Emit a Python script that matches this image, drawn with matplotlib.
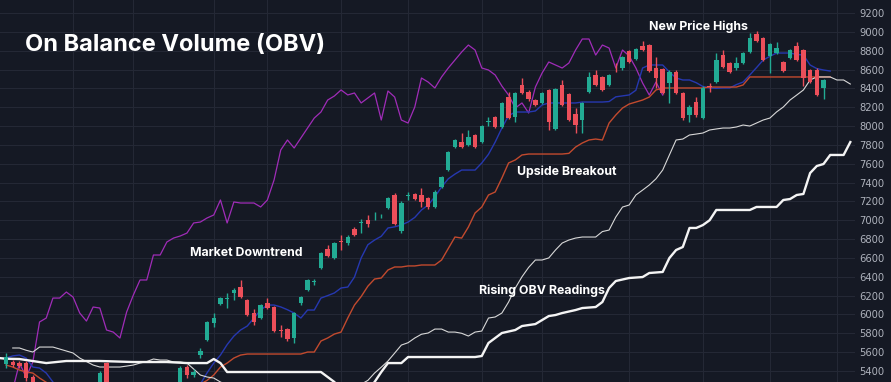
import numpy as np
import matplotlib
matplotlib.use("Agg")
import matplotlib.pyplot as plt

# ---- price candles (one per session) ----
opens = [5474, 5495, 5484, 5484, 5336, 5150, 5050, 5120, 5000, 4930,
         5010, 5090, 5040, 5130, 5210, 5484, 5200, 5100, 5020, 5080,
         4980, 4900, 4960, 5050, 5000, 5120, 5200, 5442, 5357, 5569,
         5729, 5909, 6111, 6164, 6228, 6291, 6153, 6015, 5962, 6121,
         6079, 5830, 5845, 5750, 6121, 6259, 6340, 6493, 6695, 6600,
         6780, 6758, 6907, 6970, 7002, 7040, 7040, 7130, 7268, 6890,
         7258, 7278, 7268, 7236, 7140, 7353, 7533, 7778, 7831, 7799,
         7905, 7831, 8045, 8096, 7990, 8308, 8096, 8436, 8361, 8276,
         8245, 8383, 7969, 8436, 8340, 8128, 8064, 8361, 8542, 8521,
         8436, 8600, 8616, 8797, 8712, 8850, 8860, 8616, 8605, 8457,
         8574, 8351, 8117, 8255, 8085, 8420, 8468, 8754, 8669, 8616,
         8669, 8786, 8977, 8935, 8744, 8775, 8680, 8722, 8850, 8807,
         8595, 8595, 8404]
highs = [5591, 5516, 5506, 5506, 5360, 5180, 5150, 5140, 5030, 5040,
         5110, 5120, 5160, 5230, 5400, 5495, 5220, 5130, 5110, 5100,
         5000, 4990, 5070, 5080, 5150, 5230, 5450, 5460, 5420, 5644,
         5935, 6015, 6185, 6228, 6281, 6366, 6164, 6058, 6111, 6174,
         6090, 5888, 5860, 6030, 6200, 6380, 6376, 6665, 6737, 6770,
         6843, 6840, 6930, 7013, 7055, 7087, 7070, 7250, 7289, 7200,
         7300, 7290, 7342, 7250, 7320, 7475, 7740, 7865, 7926, 7958,
         7915, 8015, 8096, 8110, 8260, 8361, 8365, 8510, 8380, 8290,
         8365, 8395, 8405, 8489, 8355, 8192, 8260, 8574, 8595, 8535,
         8555, 8669, 8745, 8810, 8830, 8903, 8870, 8733, 8620, 8590,
         8590, 8365, 8223, 8308, 8420, 8457, 8775, 8807, 8680, 8733,
         8790, 8988, 9009, 8950, 8885, 8892, 8695, 8820, 8892, 8820,
         8610, 8616, 8500]
lows = [5431, 5442, 5431, 5290, 5100, 5020, 5000, 4970, 4900, 4910,
        4990, 5010, 5020, 5100, 5180, 5150, 5060, 4990, 5000, 4950,
        4870, 4880, 4940, 4980, 4990, 5100, 5180, 5330, 5340, 5538,
        5715, 5867, 6100, 6068, 6153, 6175, 5980, 5888, 5950, 6058,
        5815, 5760, 5720, 5697, 6100, 6245, 6313, 6480, 6610, 6590,
        6684, 6740, 6830, 6864, 6928, 7002, 7020, 7120, 6950, 6865,
        7215, 7215, 7140, 7120, 7130, 7340, 7520, 7765, 7765, 7790,
        7765, 7820, 8000, 7980, 7980, 8070, 8043, 8340, 8270, 8210,
        8230, 7958, 7958, 8210, 8050, 7926, 7926, 8350, 8425, 8370,
        8425, 8570, 8600, 8670, 8700, 8795, 8570, 8404, 8340, 8245,
        8340, 8064, 8043, 8100, 8070, 8361, 8455, 8615, 8560, 8600,
        8655, 8775, 8890, 8690, 8563, 8765, 8570, 8710, 8690, 8425,
        8455, 8320, 8287]
closes = [5548, 5463, 5453, 5325, 5150, 5050, 5120, 5000, 4930, 5010,
          5090, 5040, 5130, 5200, 5378, 5200, 5100, 5020, 5080, 4980,
          4900, 4960, 5050, 5000, 5120, 5200, 5431, 5357, 5389, 5612,
          5920, 5962, 6174, 6170, 6259, 6185, 5994, 5920, 6100, 6068,
          5824, 5820, 5739, 6015, 6185, 6366, 6350, 6652, 6620, 6758,
          6770, 6822, 6843, 6980, 6960, 7050, 7050, 7236, 6960, 7183,
          7268, 7225, 7194, 7140, 7300, 7459, 7725, 7852, 7778, 7884,
          7778, 8000, 8058, 7990, 8245, 8085, 8351, 8351, 8287, 8223,
          8351, 8043, 8393, 8223, 8064, 8011, 8245, 8521, 8436, 8383,
          8542, 8590, 8733, 8680, 8818, 8807, 8584, 8510, 8351, 8574,
          8351, 8085, 8202, 8117, 8404, 8410, 8701, 8627, 8574, 8669,
          8775, 8935, 8903, 8701, 8871, 8828, 8584, 8807, 8701, 8510,
          8468, 8330, 8489]

# ---- overlay lines (session index, value) ----
magenta_x = list(range(1, 99))
magenta_y = [5200, 5484, 5336, 5495, 5920, 5962, 6174, 6174, 6238, 6185,
             6015, 5930, 6079, 6068, 5835, 5813, 5750, 6026, 6206, 6366,
             6366, 6631, 6631, 6769, 6811, 6833, 6864, 6971, 6981, 7024,
             7056, 7215, 6971, 7194, 7183, 7183, 7183, 7141, 7215, 7427,
             7746, 7852, 7767, 7873, 7979, 8085, 8149, 8276, 8319, 8383,
             8330, 8351, 8245, 8298, 8351, 8064, 8372, 8308, 8064, 8032,
             8202, 8510, 8467, 8404, 8521, 8616, 8701, 8786, 8860, 8807,
             8616, 8595, 8542, 8425, 8329, 8191, 8245, 8138, 8414, 8563,
             8680, 8648, 8616, 8669, 8807, 8924, 8924, 8754, 8860, 8828,
             8616, 8807, 8744, 8616, 8457, 8329, 8467, 8329]

blue_x = list(range(0, 124))
blue_y = [5537, 5560, 5569, 5537, 5442, 5431, 5378, 5283, 5200, 5150,
          5120, 5100, 5080, 5080, 5100, 5120, 5100, 5080, 5060, 5040,
          5020, 5000, 5000, 5020, 5040, 5080, 5120, 5160, 5200, 5260,
          5380, 5484, 5569, 5680, 5770, 5835, 5877, 5962, 6047, 6100,
          6100, 6080, 6050, 6015, 5962, 6047, 6047, 6174, 6200, 6228,
          6281, 6291, 6397, 6600, 6740, 6790, 6830, 6918, 6930, 6950,
          6981, 7030, 7109, 7162, 7250, 7353, 7440, 7490, 7533, 7533,
          7533, 7608, 7700, 7830, 7979, 8110, 8149, 8149, 8149, 8160,
          8223, 8245, 8245, 8245, 8245, 8245, 8255, 8255, 8255, 8255,
          8260, 8310, 8320, 8330, 8380, 8616, 8648, 8648, 8648, 8574,
          8510, 8489, 8489, 8460, 8420, 8404, 8400, 8404, 8404, 8440,
          8467, 8542, 8620, 8701, 8740, 8775, 8775, 8775, 8760, 8754,
          8648, 8610, 8595, 8584]

orange_x = list(range(0, 124))
orange_y = [5463, 5442, 5410, 5389, 5378, 5325, 5280, 5240, 5200, 5180,
            5160, 5150, 5140, 5130, 5120, 5120, 5110, 5100, 5100, 5110,
            5120, 5130, 5140, 5150, 5160, 5170, 5190, 5210, 5230, 5260,
            5300, 5357, 5442, 5484, 5537, 5569, 5580, 5580, 5580, 5580,
            5580, 5580, 5580, 5580, 5580, 5601, 5601, 5718, 5750, 5792,
            5813, 5962, 6100, 6190, 6300, 6376, 6387, 6472, 6504, 6504,
            6515, 6515, 6525, 6525, 6525, 6578, 6700, 6822, 6811, 6928,
            7077, 7140, 7268, 7300, 7448, 7608, 7640, 7693, 7703, 7703,
            7703, 7703, 7703, 7703, 7710, 7777, 7820, 7852, 7862, 7852,
            8032, 8117, 8191, 8234, 8255, 8276, 8308, 8383, 8404, 8404,
            8404, 8404, 8404, 8404, 8404, 8414, 8414, 8414, 8414, 8414,
            8436, 8521, 8521, 8521, 8521, 8521, 8521, 8521, 8521, 8521,
            8521, 8521, 8521, 8521]

obv_x = list(range(1, 127))
obv_y = [5644, 5644, 5620, 5601, 5654, 5654, 5654, 5633, 5612, 5591,
         5537, 5500, 5463, 5442, 5442, 5442, 5442, 5452, 5463, 5484,
         5500, 5527, 5516, 5516, 5495, 5495, 5484, 5421, 5357, 5336,
         5325, 5283, 5250, 5230, 5200, 5180, 5170, 5160, 5150, 5140,
         5130, 5120, 5120, 5110, 5110, 5120, 5130, 5140, 5160, 5180,
         5200, 5230, 5260, 5300, 5378, 5440, 5506, 5590, 5675, 5700,
         5750, 5790, 5803, 5845, 5845, 5813, 5813, 5800, 5771, 5813,
         5824, 5962, 5973, 6015, 6132, 6280, 6400, 6500, 6578, 6578,
         6600, 6684, 6758, 6790, 6811, 6822, 6822, 6822, 6880, 6896,
         7034, 7140, 7162, 7268, 7320, 7374, 7440, 7533, 7693, 7852,
         7862, 7905, 7915, 7926, 7958, 7969, 7979, 7979, 7990, 8011,
         8000, 8032, 8064, 8085, 8150, 8202, 8276, 8329, 8383, 8489,
         8521, 8521, 8521, 8489, 8489, 8446]

obv_smooth_x = [-1, 0, 2, 6, 9, 14, 19, 24, 27, 30, 31, 32, 33, 47, 48, 49,
                50, 54, 55, 56, 57, 59, 60, 70, 71, 72, 73, 74, 76, 77,
                79, 81, 82, 83, 85, 86, 88, 89, 90, 91, 93, 95, 96, 98,
                99, 100, 101, 102, 103, 104, 105, 106, 111, 112, 115, 116, 117, 118,
                119, 120, 121, 122, 123, 125, 126]
obv_smooth_y = [5537, 5530, 5527, 5484, 5506, 5506, 5495, 5495, 5484, 5484,
                5527, 5484, 5389, 5389, 5336, 5283, 5200, 5200, 5283, 5389,
                5484, 5484, 5548, 5548, 5559, 5697, 5750, 5803, 5835, 5877,
                5898, 5983, 5994, 6015, 6047, 6068, 6079, 6132, 6281, 6355,
                6387, 6397, 6440, 6451, 6599, 6684, 6716, 6918, 6918, 6949,
                7000, 7109, 7109, 7141, 7141, 7215, 7225, 7268, 7279, 7501,
                7576, 7597, 7693, 7693, 7830]

price_ticks = list(range(5400, 9201, 200))
month_idx = [10, 19, 31, 39, 50, 60, 71, 80, 93, 104, 114, 124]

BG = "#151924"
GRID = "#242835"
UP = "#22ab94"
DOWN = "#ec4f5a"

fig = plt.figure(figsize=(8.91, 3.82), dpi=100, facecolor=BG)
ax = fig.add_axes([0, 0, 855 / 891, 1])
ax.set_facecolor(BG)

# overlay lines
ax.plot(magenta_x, magenta_y, color="#a02cb8", lw=0.9, zorder=2)
ax.plot(blue_x, blue_y, color="#2638b0", lw=1.0, zorder=2)
ax.plot(orange_x, orange_y, color="#c24a2e", lw=1.0, zorder=2)
ax.plot(obv_x, obv_y, color="#d8d8d8", lw=0.8, zorder=2)
ax.plot(obv_smooth_x, obv_smooth_y, color="#f4f4f4", lw=1.7, zorder=2)

# candles
o, h, l, c = map(np.array, (opens, highs, lows, closes))
idx = np.arange(len(o))
col = np.where(c >= o, UP, DOWN)
ax.vlines(idx, l, h, colors=col, lw=1.0, zorder=3)
body = np.maximum(np.abs(c - o), 10)
ax.bar(idx, body, bottom=np.minimum(o, c), width=0.66, color=col,
       lw=0, zorder=4)

ax.set_xlim(-0.9, 126.7)
ax.set_ylim(5283, 9338)
ax.set_xticks(month_idx)
ax.set_xticklabels([])
ax.set_yticks(price_ticks)
ax.yaxis.tick_right()
ax.tick_params(axis="both", length=0)
ax.tick_params(axis="y", pad=3, labelsize=7.2, labelcolor="#aeb2bc")
ax.grid(True, color=GRID, lw=0.8, zorder=0)
for s in ax.spines.values():
    s.set_visible(False)

fkw = dict(family=["Inter", "DejaVu Sans"], weight="bold", color="white")
fig.text(25 / 891, 1 - 45 / 382, "On Balance Volume (OBV)", fontsize=17,
         va="center", ha="left", **fkw)
ax.text(103.3, 9051, "New Price Highs", fontsize=8.9, ha="center",
        va="center", zorder=5, **fkw)
ax.text(83.7, 7512, "Upside Breakout", fontsize=8.9, ha="center",
        va="center", zorder=5, **fkw)
ax.text(35.8, 6652, "Market Downtrend", fontsize=8.9, ha="center",
        va="center", zorder=5, **fkw)
ax.text(80.0, 6249, "Rising OBV Readings", fontsize=8.9, ha="center",
        va="center", zorder=5, **fkw)

fig.savefig("out.png", dpi=100, facecolor=BG)
